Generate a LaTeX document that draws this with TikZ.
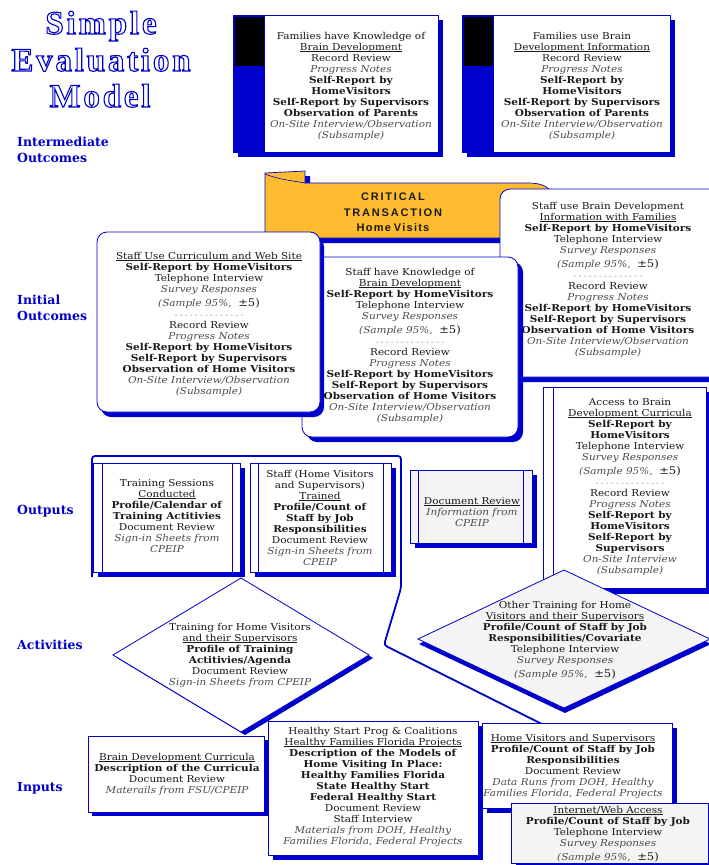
\documentclass[tikz,border=0pt]{standalone}
\usepackage{fontspec}
\setmainfont{DejaVu Serif}[FakeStretch=1.1]
\newfontfamily\plainserif{DejaVu Serif}
\newfontfamily\titlefont{Liberation Serif}
\newfontfamily\bannerfont{Liberation Sans}
\definecolor{mblue}{RGB}{0,0,204}
\definecolor{bannerc}{RGB}{253,187,48}
\definecolor{lgray}{RGB}{244,244,244}
\makeatletter
\protected\def\spacedtext#1#2{\def\sp@k{#1}\@tfor\sp@t:=#2\do{\sp@t\kern\sp@k}\unkern}
\makeatother
\newcommand\outlined[1]{\special{pdf:literal direct 1 Tr 1.1 w}#1\special{pdf:literal direct 0 Tr}}
\newcommand\mybf[1]{\textbf{#1}}
\newcommand\myit[1]{{\itshape\color{black!70}#1}}
\newcommand\myul[1]{\setbox0=\hbox{#1}\rlap{\rule[-1.4pt]{\wd0}{0.6pt}}\box0}
\newcommand\samp{{\itshape\color{black!70}(Sample 95\%,}\ \ {\fontsize{10.5}{11}\selectfont ±5)}}
\newcommand\dashl{{\color{black!55}\fontsize{7}{6}\selectfont - - - - - - - - - - - - - -}}
\begin{document}
\begin{tikzpicture}[x=1pt,y=-1pt,
 txt/.style={align=center,font=\fontsize{9.5}{11}\selectfont,inner sep=0pt,text=black!90},
 frm/.style={draw=mblue,line width=0.8pt,fill=white},
 gfrm/.style={draw=mblue,line width=0.8pt,fill=lgray},
 shd/.style={fill=mblue,draw=none},
 inl/.style={draw=mblue,line width=0.8pt},
 lbl/.style={anchor=west,align=left,text=mblue,font=\plainserif\bfseries\fontsize{12.5}{16}\selectfont,inner sep=0pt},
 ttl/.style={anchor=base,text=mblue,font=\titlefont\bfseries\fontsize{33}{33}\selectfont,inner sep=0pt},
 bnr/.style={align=center,font=\bannerfont\bfseries\fontsize{11}{15.5}\selectfont,inner sep=0pt,text=black!90}]
\useasboundingbox (0,0) rectangle (709,865);
\fill[white] (0,0) rectangle (709,865);

% title
\node[ttl] (t1) at (101,34) {\outlined{\spacedtext{2.8pt}{Simple}}};
\node[ttl] (t2) at (101,71) {\outlined{\spacedtext{2.8pt}{Evaluation}}};
\node[ttl] (t3) at (100,107) {\outlined{\spacedtext{2.8pt}{Model}}};

% row labels
\node[lbl] (l1) at (17,150) {Intermediate\\Outcomes};
\node[lbl] (l2) at (17,308) {Initial\\Outcomes};
\node[lbl] (l3) at (17,511) {Outputs};
\node[lbl] (l4) at (17,645) {Activities};
\node[lbl] (l5) at (17,788) {Inputs};

% intermediate outcome A
\fill[shd] (238,20) rectangle (443,157);
\draw[frm] (233,15) rectangle (438,152);
\fill[mblue] (233,15) rectangle (265,152);
\fill[black] (235,17) rectangle (264,66);
\node[txt] (ia) at (351,86) {Families have Knowledge of\\ \myul{Brain Development}\\ Record Review\\ \myit{Progress Notes}\\ \mybf{Self-Report by}\\ \mybf{HomeVisitors}\\ \mybf{Self-Report by Supervisors}\\ \mybf{Observation of Parents}\\ \myit{On-Site Interview/Observation}\\ \myit{(Subsample)}};

% intermediate outcome B
\fill[shd] (467,20) rectangle (675,157);
\draw[frm] (462,15) rectangle (670,152);
\fill[mblue] (462,15) rectangle (494,152);
\fill[black] (464,17) rectangle (493,66);
\node[txt] (ib) at (582,86) {Families use Brain\\ \myul{Development Information}\\ Record Review\\ \myit{Progress Notes}\\ \mybf{Self-Report by}\\ \mybf{HomeVisitors}\\ \mybf{Self-Report by Supervisors}\\ \mybf{Observation of Parents}\\ \myit{On-Site Interview/Observation}\\ \myit{(Subsample)}};

% banner
\fill[shd,shift={(5,5)}] (265,173) -- (305,171) -- (305,183) -- (528,183) .. controls (540,183) and (546,186) .. (550,190) -- (550,238) -- (270,238) .. controls (267,238) and (265,236) .. (265,233) -- cycle;
\draw[draw=mblue,line width=0.7pt,fill=bannerc] (265,173) -- (305,171) -- (305,183) -- (528,183) .. controls (540,183) and (546,186) .. (550,190) -- (550,238) -- (270,238) .. controls (267,238) and (265,236) .. (265,233) -- cycle;
\draw[mblue,line width=0.6pt] (265,174) .. controls (280,180) and (295,181) .. (305,183);
\node[bnr] (bn) at (393,212.5) {\spacedtext{1.8pt}{CRITICAL}\\ \spacedtext{1.8pt}{TRANSACTION}\\ \spacedtext{1.2pt}{Home}\ \spacedtext{1.2pt}{Visits}};

% staff use brain development information
\fill[shd,rounded corners=10pt] (505,194) rectangle (740,382);
\draw[frm,rounded corners=10pt] (500,189) rectangle (735,377);
\node[txt] (sb) at (608,280) {Staff use Brain Development\\ \myul{Information with Families}\\ \mybf{Self-Report by HomeVisitors}\\ Telephone Interview\\ \myit{Survey Responses}\\[3pt] \samp\\ \dashl\\ Record Review\\ \myit{Progress Notes}\\ \mybf{Self-Report by HomeVisitors}\\ \mybf{Self-Report by Supervisors}\\ \mybf{Observation of Home Visitors}\\ \myit{On-Site Interview/Observation}\\ \myit{(Subsample)}};

% staff have knowledge
\fill[shd,rounded corners=10pt] (307,262) rectangle (523,442);
\draw[frm,rounded corners=10pt] (302,257) rectangle (518,437);
\node[txt] (sk) at (410,346) {Staff have Knowledge of\\ \myul{Brain Development}\\ \mybf{Self-Report by HomeVisitors}\\ Telephone Interview\\ \myit{Survey Responses}\\[3pt] \samp\\ \dashl\\ Record Review\\ \myit{Progress Notes}\\ \mybf{Self-Report by HomeVisitors}\\ \mybf{Self-Report by Supervisors}\\ \mybf{Observation of Home Visitors}\\ \myit{On-Site Interview/Observation}\\ \myit{(Subsample)}};

% staff use curriculum
\fill[shd,rounded corners=10pt] (101,237) rectangle (324,417);
\draw[frm,rounded corners=10pt] (97,232) rectangle (320,412);
\node[txt] (su) at (209,324) {\myul{Staff Use Curriculum and Web Site}\\ \mybf{Self-Report by HomeVisitors}\\ Telephone Interview\\ \myit{Survey Responses}\\[3pt] \samp\\ \dashl\\ Record Review\\ \myit{Progress Notes}\\ \mybf{Self-Report by HomeVisitors}\\ \mybf{Self-Report by Supervisors}\\ \mybf{Observation of Home Visitors}\\ \myit{On-Site Interview/Observation}\\ \myit{(Subsample)}};

% outputs frame
\coordinate (f1) at (92,577);
\coordinate (f2) at (92,456);
\coordinate (f3) at (401,456);
\coordinate (f4) at (401,588);
\coordinate (f5) at (384,645);
\coordinate (f6) at (548,727);
\draw[mblue,line width=1.8pt,rounded corners=3pt] (f1) -- (f2) -- (f3) -- (f4) -- (f5) -- (f6);

% outputs
\fill[shd] (98,468) rectangle (245,577);
\draw[frm] (93,463) rectangle (240,572);
\draw[inl] (102,463) -- (102,572) (232,463) -- (232,572);
\node[txt] (os) at (167,516) {Training Sessions\\ \myul{Conducted}\\ \mybf{Profile/Calendar of}\\ \mybf{Training Actitivies}\\ Document Review\\ \myit{Sign-in Sheets from}\\ \myit{CPEIP}};

\fill[shd] (255,468) rectangle (396,577);
\draw[frm] (250,463) rectangle (391,572);
\draw[inl] (258,463) -- (258,572) (383,463) -- (383,572);
\node[txt] (ot) at (320,518) {Staff (Home Visitors\\ and Supervisors)\\ \myul{Trained}\\ \mybf{Profile/Count of}\\ \mybf{Staff by Job}\\ \mybf{Responsibilities}\\ Document Review\\ \myit{Sign-in Sheets from}\\ \myit{CPEIP}};

\fill[shd] (415,475) rectangle (537,548);
\draw[gfrm] (410,470) rectangle (532,543);
\draw[inl] (418,470) -- (418,543) (523,470) -- (523,543);
\node[txt] (od) at (472,512) {\myul{Document Review}\\ \myit{Information from}\\ \myit{CPEIP}};

\fill[shd] (548,392) rectangle (715,594);
\draw[frm] (543,387) rectangle (706,588);
\draw[inl] (553,387) -- (553,588);
\node[txt] (oa) at (630,487) {Access to Brain\\ \myul{Development Curricula}\\ \mybf{Self-Report by}\\ \mybf{HomeVisitors}\\ Telephone Interview\\ \myit{Survey Responses}\\[3pt] \samp\\ \dashl\\ Record Review\\ \myit{Progress Notes}\\ \mybf{Self-Report by}\\ \mybf{HomeVisitors}\\ \mybf{Self-Report by}\\ \mybf{Supervisors}\\ \myit{On-Site Interview}\\ \myit{(Subsample)}};

% activities
\fill[shd] (117,658) -- (245,581) -- (373,658) -- (245,735) -- cycle;
\draw[frm] (113,655) -- (241,578) -- (369,655) -- (241,732) -- cycle;
\node[txt] (ad) at (240,655) {Training for Home Visitors\\ \myul{and their Supervisors}\\ \mybf{Profile of Training}\\ \mybf{Actitivies/Agenda}\\ Document Review\\ \myit{Sign-in Sheets from CPEIP}};

\fill[shd] (419,644) -- (565,575) -- (711,644) -- (565,713) -- cycle;
\draw[gfrm] (418,639) -- (564,570) -- (710,639) -- (564,708) -- cycle;
\node[txt] (ao) at (565,640) {Other Training for Home\\ \myul{Visitors and their Supervisors}\\ \mybf{Profile/Count of Staff by Job}\\ \mybf{Responsibilities/Covariate}\\ Telephone Interview\\ \myit{Survey Responses}\\[3pt] \samp};

% inputs
\fill[shd] (92,740) rectangle (268,816);
\draw[frm] (88,736) rectangle (264,812);
\node[txt] (pb) at (177,774) {\myul{Brain Development Curricula}\\ \mybf{Description of the Curricula}\\ Document Review\\ \myit{Materails from FSU/CPEIP}};

\fill[shd] (273,726) rectangle (483,860);
\draw[frm] (268,721) rectangle (478,855);
\node[txt] (ph) at (373,787) {Healthy Start Prog \& Coalitions\\ \myul{Healthy Families Florida Projects}\\ \mybf{Description of the Models of}\\ \mybf{Home Visiting In Place:}\\ \mybf{Healthy Families Florida}\\ \mybf{State Healthy Start}\\ \mybf{Federal Healthy Start}\\ Document Review\\ Staff Interview\\ \myit{Materials from DOH, Healthy}\\ \myit{Families Florida, Federal Projects}};

\fill[shd] (487,728) rectangle (677,813);
\draw[frm] (482,723) rectangle (672,808);
\node[txt] (pv) at (573,766) {\myul{Home Visitors and Supervisors}\\ \mybf{Profile/Count of Staff by Job}\\ \mybf{Responsibilities}\\ Document Review\\ \myit{Data Runs from DOH, Healthy}\\ \myit{Families Florida, Federal Projects}};

\fill[shd] (516,808) rectangle (713,868);
\draw[gfrm] (511,803) rectangle (708,863);
\node[txt] (pw) at (608,834) {\myul{Internet/Web Access}\\ \mybf{Profile/Count of Staff by Job}\\ Telephone Interview\\ \myit{Survey Responses}\\[3pt] \samp};
\end{tikzpicture}
\end{document}
